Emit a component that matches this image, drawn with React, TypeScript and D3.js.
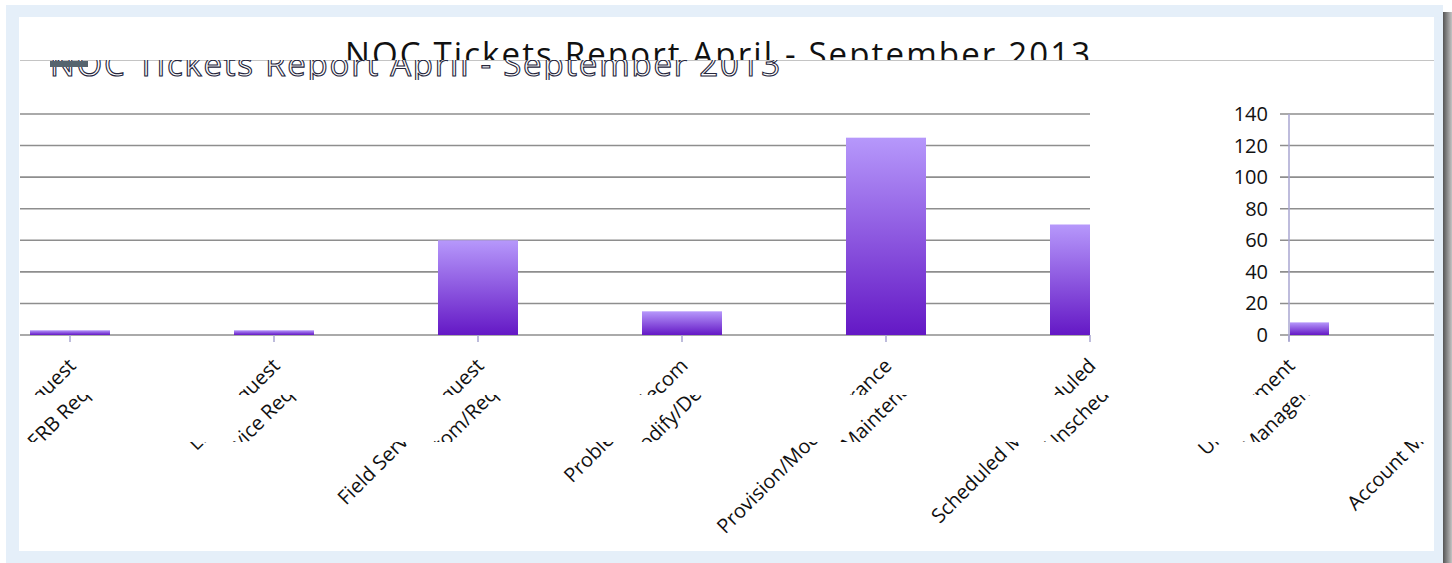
import React, { useEffect, useRef } from 'react';
import * as d3 from 'd3';

const title = 'NOC Tickets Report April - September 2013';
const categories = [
  'ERB Request',
  'Service Request',
  'Field Service Request',
  'Problem/Telecom',
  'Provision/Maintenance',
  'Scheduled/Unscheduled',
  'Unit Payment',
  'Account Management',
];
// the two wrapped lines of each rotated category label
const labelLine1 = [
  'New Request',
  'Link Request',
  'Field Service Request',
  'Problem/Telecom',
  'Provision/Mod Assurance',
  'Scheduled M Scheduled',
  'Unit Payment',
  'Account Management',
];
const labelLine2 = [
  'ERB Request',
  'Service Request',
  'Custom/Request',
  'Modify/Decom',
  'Maintenance',
  'Unscheduled',
  'Management',
  'Management',
];
const ticketCounts = [3, 3, 60, 15, 125, 70, 8];
const yTicks = [0, 20, 40, 60, 80, 100, 120, 140];

const W = 1452;
const H = 563;
const FONT = "'Open Sans', sans-serif";

export default function App() {
  const ref = useRef<SVGSVGElement>(null);

  useEffect(() => {
    if (!ref.current) return;
    const svg = d3.select(ref.current);
    svg.selectAll('*').remove();

    const defs = svg.append('defs');
    const grad = defs.append('linearGradient').attr('id', 'barFill')
      .attr('x1', 0).attr('y1', 0).attr('x2', 0).attr('y2', 1);
    grad.append('stop').attr('offset', '0%').attr('stop-color', '#b698fb');
    grad.append('stop').attr('offset', '100%').attr('stop-color', '#6418c5');
    const shade = defs.append('linearGradient').attr('id', 'shade')
      .attr('x1', 0).attr('y1', 0).attr('x2', 1).attr('y2', 0);
    shade.append('stop').attr('offset', '0%').attr('stop-color', '#555');
    shade.append('stop').attr('offset', '100%').attr('stop-color', '#c4c4c4');

    const clip = (id: string, rects: number[][]) => {
      const c = defs.append('clipPath').attr('id', id);
      rects.forEach(([x, y, w, h]) => c.append('rect').attr('x', x).attr('y', y).attr('width', w).attr('height', h));
    };
    clip('plotL', [[20, 100, 1070, 240]]);
    clip('plotR', [[1290, 100, 145, 240]]);
    clip('line1', [[19, 340, 1415, 55], [19, 442, 1415, 109]]);
    clip('line2', [[19, 395, 1415, 47]]);
    clip('titleTop', [[19, 17, 1415, 43]]);
    clip('titleLow', [[19, 60, 1415, 20]]);

    // frame
    svg.append('rect').attr('width', W).attr('height', H).attr('fill', '#fff');
    svg.append('rect').attr('x', 1443).attr('y', 12).attr('width', 9).attr('height', H - 12).attr('fill', 'url(#shade)');
    svg.append('rect').attr('x', 6).attr('y', 5).attr('width', 1437).attr('height', 558).attr('fill', '#e5eff9');
    svg.append('rect').attr('x', 19).attr('y', 17).attr('width', 1415).attr('height', 534).attr('fill', '#fff');

    // title
    svg.append('line').attr('x1', 20).attr('x2', 1434).attr('y1', 60.5).attr('y2', 60.5)
      .attr('stroke', '#c4c4c4').attr('stroke-width', 1);
    svg.append('text').attr('clip-path', 'url(#titleTop)')
      .attr('x', 345).attr('y', 66).attr('font-family', FONT).attr('font-size', 33)
      .attr('textLength', 745).attr('lengthAdjust', 'spacing').attr('fill', '#111').text(title);
    svg.append('text').attr('clip-path', 'url(#titleLow)')
      .attr('x', 50).attr('y', 76).attr('font-family', FONT).attr('font-size', 33)
      .attr('textLength', 730).attr('lengthAdjust', 'spacing')
      .attr('fill', '#fff').attr('stroke', '#26263c').attr('stroke-width', 1.1).text(title);
    svg.append('rect').attr('x', 50).attr('y', 61).attr('width', 38).attr('height', 6).attr('fill', '#56646e');

    const y = d3.scaleLinear().domain([0, 140]).range([335, 114]);
    const xL = d3.scalePoint<string>().domain(categories).range([70, 70 + 7 * 204]);
    const xR = d3.scalePoint<string>().domain(categories).range([1289 - 6 * 204, 1289 + 204]);
    const barW = 80;

    // gridlines
    const grid = svg.append('g').attr('stroke', '#8e8e8e').attr('stroke-width', 1.6);
    yTicks.forEach((v) => {
      grid.append('line').attr('x1', 20).attr('x2', 1090).attr('y1', y(v)).attr('y2', y(v));
      grid.append('line').attr('x1', 1280).attr('x2', 1434).attr('y1', y(v)).attr('y2', y(v));
    });

    const xOf = (i: number) => (i < 6 ? xL : xR)(categories[i])!;

    // bars
    const bars = ticketCounts.map((v, i) => ({ v, i }));
    svg.append('g').attr('clip-path', 'url(#plotL)')
      .selectAll('rect').data(bars.filter((d) => d.i < 6)).join('rect')
      .attr('x', (d) => xOf(d.i) - barW / 2).attr('width', barW)
      .attr('y', (d) => y(d.v)).attr('height', (d) => y(0) - y(d.v))
      .attr('fill', 'url(#barFill)');
    svg.append('g').attr('clip-path', 'url(#plotR)')
      .selectAll('rect').data(bars.filter((d) => d.i >= 6)).join('rect')
      .attr('x', (d) => xOf(d.i) - barW / 2).attr('width', barW)
      .attr('y', (d) => y(d.v)).attr('height', (d) => y(0) - y(d.v))
      .attr('fill', 'url(#barFill)');

    // category ticks
    svg.append('g').attr('stroke', '#a9a6d0').attr('stroke-width', 1.5)
      .selectAll('line').data(categories.slice(0, 7)).join('line')
      .attr('x1', (_d, i) => xOf(i)).attr('x2', (_d, i) => xOf(i))
      .attr('y1', y(0)).attr('y2', y(0) + 7);

    // right value axis
    svg.append('line').attr('x1', 1289).attr('x2', 1289).attr('y1', y(140)).attr('y2', y(0) + 6)
      .attr('stroke', '#a9a6d0').attr('stroke-width', 1.5);
    svg.append('g').selectAll('text').data(yTicks).join('text')
      .attr('x', 1268).attr('y', (d) => y(d)).attr('dy', '0.35em')
      .attr('text-anchor', 'end').attr('font-family', FONT).attr('font-size', 20).attr('fill', '#111')
      .text((d) => d);

    // rotated category labels
    const g1 = svg.append('g').attr('clip-path', 'url(#line1)')
      .attr('font-family', FONT).attr('font-size', 20).attr('fill', '#111');
    const g2 = svg.append('g').attr('clip-path', 'url(#line2)')
      .attr('font-family', FONT).attr('font-size', 20).attr('fill', '#111');
    categories.forEach((_c, i) => {
      const t = xOf(i);
      g1.append('text').attr('text-anchor', 'end')
        .attr('transform', `translate(${t + 7},367) rotate(-45)`).text(labelLine1[i]);
      g2.append('text').attr('text-anchor', 'end')
        .attr('transform', `translate(${t + 49},367) rotate(-45)`).text(labelLine2[i]);
    });
  }, []);

  return <svg ref={ref} width={W} height={H} style={{ position: 'absolute', left: 0, top: 0 }} />;
}
